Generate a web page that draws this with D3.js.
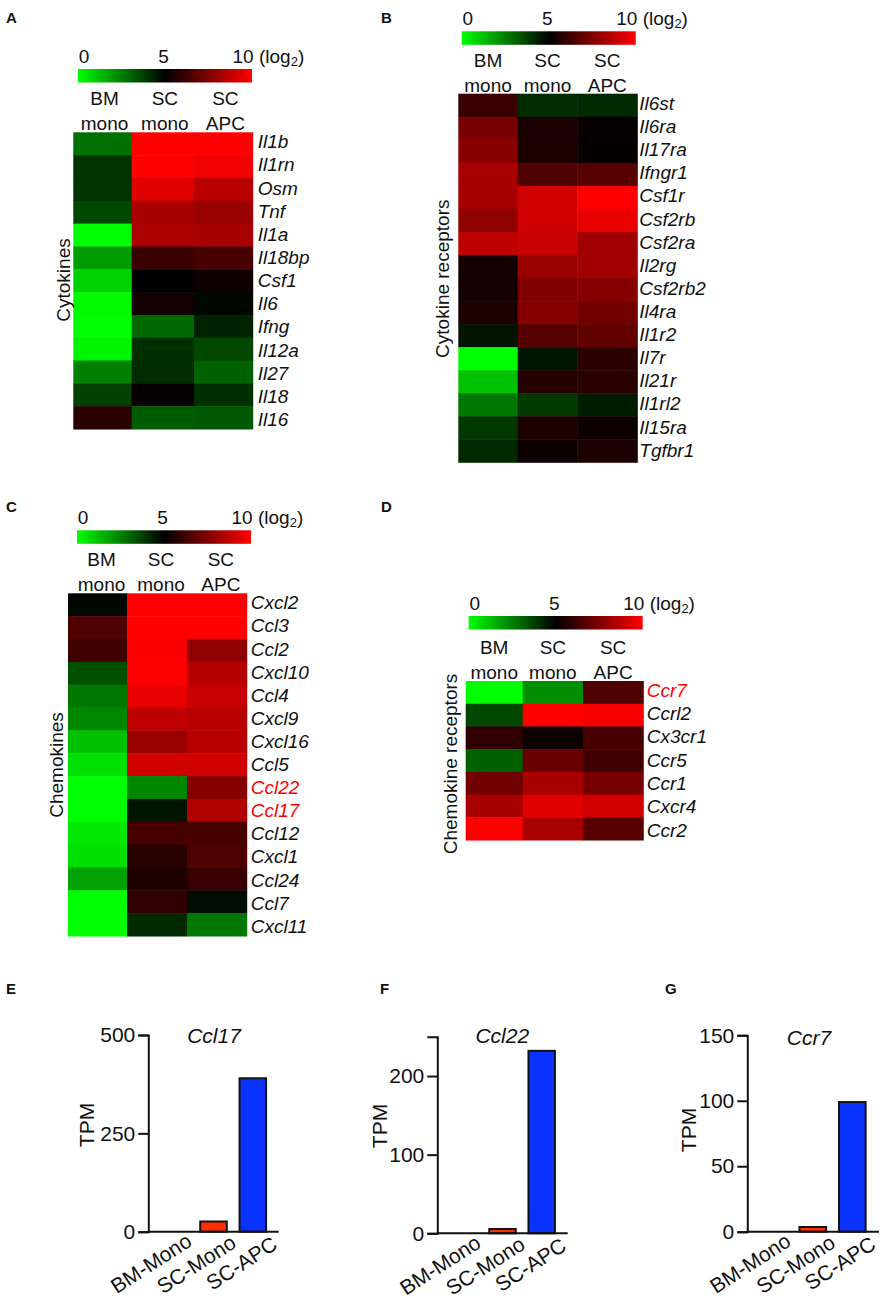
<!DOCTYPE html>
<html>
<head>
<meta charset="utf-8">
<script src="https://cdn.jsdelivr.net/npm/d3@7"></script>
<style>
  body { margin: 0; background: #fff; }
  svg { display: block; }
  text { font-family: "Liberation Sans", Arial, sans-serif; fill: #111; }
</style>
</head>
<body>
<div id="chart"></div>
<script>
// heatmap data, log2 values
var columns = ['BM mono', 'SC mono', 'SC APC'];

var cytokineGenes = ['Il1b','Il1rn','Osm','Tnf','Il1a','Il18bp','Csf1','Il6','Ifng','Il12a','Il27','Il18','Il16'];
var cytokineBM     = [2.8,4.0,4.0,3.6,0,1.95,0.9,0.1,0,0.2,2.5,3.75,5.8];
var cytokineMono   = [10,10,9.4,8.3,8.4,6.1,5.0,5.4,2.95,4.06,4.14,5.15,3.2];
var cytokineAPC    = [10,9.7,8.6,8.0,8.3,6.4,5.3,4.85,4.33,3.6,3.1,4.06,3.27];

var receptorGenes = ['Il6st','Il6ra','Il17ra','Ifngr1','Csf1r','Csf2rb','Csf2ra','Il2rg','Csf2rb2','Il4ra','Il1r2','Il7r','Il21r','Il1rl2','Il15ra','Tgfbr1'];
var receptorBM     = [6.1,7.35,7.7,8.3,8.3,7.8,8.75,5.4,5.4,5.6,4.6,0,1.2,2.65,3.9,4.2];
var receptorMono   = [4.14,5.5,5.55,6.55,9.1,9.1,8.9,8.0,7.5,7.65,6.7,4.6,5.7,3.9,5.55,5.25];
var receptorAPC    = [4.2,5.15,5.1,6.7,10,9.55,8.15,8.15,7.65,7.2,6.9,5.85,5.85,4.45,5.3,5.55];

var chemokineGenes = ['Cxcl2','Ccl3','Ccl2','Cxcl10','Ccl4','Cxcl9','Cxcl16','Ccl5','Ccl22','Ccl17','Ccl12','Cxcl1','Ccl24','Ccl7','Cxcl11'];
var chemokineBM    = [4.85,6.55,6.25,3.43,2.65,2.35,1.2,0.6,0,0,0.45,0.6,1.85,0,0];
var chemokineMono  = [10,10,9.9,10,9.55,8.75,8.0,9.1,2.35,4.6,6.4,5.8,5.6,5.95,4.2];
var chemokineAPC   = [10,10,7.85,8.6,8.9,8.6,8.6,9.1,7.65,8.45,6.4,6.55,6.1,4.76,2.65];

var chemoRecGenes = ['Ccr7','Ccrl2','Cx3cr1','Ccr5','Ccr1','Cxcr4','Ccr2'];
var chemoRecBM    = [0,3.6,5.95,3.1,7.2,8.3,10];
var chemoRecMono  = [2.2,10,5.3,7.05,8.3,9.4,8.3];
var chemoRecAPC   = [6.55,9.85,6.4,6.25,7.35,9.1,6.7];

var highlighted = ['Ccl22','Ccl17','Ccr7'];

// bar data
var barGroups = ['BM-Mono','SC-Mono','SC-APC'];
var ccl17Tpm = [0,26,390];
var ccl22Tpm = [0,5.5,232];
var ccr7Tpm  = [0,3.6,99];
var ccl17Ticks = [0,250,500];
var ccl22Ticks = [0,100,200];
var ccr7Ticks  = [0,50,100,150];

var width = 881, height = 1299;

var svg = d3.select('#chart').append('svg')
  .attr('width', width)
  .attr('height', height);

var defs = svg.append('defs');

var color = d3.scaleLinear()
  .domain([0, 5, 10])
  .range(['#00ff00', '#000000', '#ff0000']);

var grad = defs.append('linearGradient').attr('id', 'barGrad');
[0, 5, 10].forEach(function(v) {
  grad.append('stop').attr('offset', (v * 10) + '%').attr('stop-color', color(v));
});

function heatmap(p) {
  // columns are not quite equal in the figure, so edges come per panel
  var xLeft = d3.scaleOrdinal().domain(columns).range(p.edges.slice(0, 3));
  var xRight = d3.scaleOrdinal().domain(columns).range(p.edges.slice(1));
  var y = d3.scaleBand().domain(p.genes).range([p.y0, p.y1]);
  var labelY = d3.scalePoint().domain(p.genes).range(p.labelRange);
  var x1 = p.edges[3];
  var g = svg.append('g');

  p.series.forEach(function(values, c) {
    g.selectAll(null)
      .data(values)
      .enter().append('rect')
      .attr('x', xLeft(columns[c]))
      .attr('width', xRight(columns[c]) - xLeft(columns[c]) + 0.5)
      .attr('y', function(d, i) { return y(p.genes[i]); })
      .attr('height', y.bandwidth() + 0.5)
      .attr('fill', function(d) { return color(d); });
  });

  g.selectAll(null)
    .data(p.genes)
    .enter().append('text')
    .attr('x', x1 + p.labelGap)
    .attr('y', function(d) { return labelY(d); })
    .attr('font-size', 19)
    .attr('font-style', 'italic')
    .style('fill', function(d) { return highlighted.indexOf(d) > -1 ? '#ff0000' : '#111'; })
    .text(function(d) { return d; });

  // column headers, two lines
  columns.forEach(function(name, c) {
    var parts = name.split(' ');
    var cx = (xLeft(name) + xRight(name)) / 2 + p.headShift;
    parts.forEach(function(t, l) {
      g.append('text')
        .attr('x', cx)
        .attr('y', p.y0 - 27 + l * 25)
        .attr('text-anchor', 'middle')
        .attr('font-size', 19)
        .text(t);
    });
  });

  // colour key
  g.append('rect')
    .attr('x', p.keyX).attr('y', p.keyY)
    .attr('width', 174).attr('height', 13.5)
    .attr('fill', 'url(#barGrad)');

  var keyScale = d3.scaleLinear().domain([0, 10]).range([p.keyX + 6, p.keyX + 165]);
  [0, 5, 10].forEach(function(v) {
    g.append('text')
      .attr('x', keyScale(v))
      .attr('y', p.keyY - 6)
      .attr('text-anchor', 'middle')
      .attr('font-size', 19)
      .text(v);
  });
  var lg = g.append('text')
    .attr('x', p.keyX + 181)
    .attr('y', p.keyY - 6)
    .attr('font-size', 19)
    .text('(log');
  lg.append('tspan').attr('font-size', 13).attr('dy', 3).text('2');
  lg.append('tspan').attr('dy', -3).text(')');

  g.append('text')
    .attr('transform', 'translate(' + p.titleX + ',' + p.titleY + ') rotate(-90)')
    .attr('text-anchor', 'middle')
    .attr('font-size', 19)
    .text(p.title);
}

heatmap({
  genes: cytokineGenes, series: [cytokineBM, cytokineMono, cytokineAPC],
  edges: [73.3, 131.7, 194, 252.7], y0: 132.3, y1: 429, headShift: 2,
  labelRange: [148.3, 426], labelGap: 5,
  keyX: 78, keyY: 69, title: 'Cytokines', titleX: 70, titleY: 280
});
heatmap({
  genes: receptorGenes, series: [receptorBM, receptorMono, receptorAPC],
  edges: [458.3, 517.7, 577.3, 637.3], y0: 93.7, y1: 462.3, headShift: 0,
  labelRange: [110, 456.7], labelGap: 2,
  keyX: 461.7, keyY: 31.3, title: 'Cytokine receptors', titleX: 449, titleY: 278.7
});
heatmap({
  genes: chemokineGenes, series: [chemokineBM, chemokineMono, chemokineAPC],
  edges: [68, 127, 187, 246.7], y0: 593.3, y1: 936, headShift: 4,
  labelRange: [609.3, 932.7], labelGap: 4,
  keyX: 77, keyY: 530.3, title: 'Chemokines', titleX: 63.3, titleY: 765
});
heatmap({
  genes: chemoRecGenes, series: [chemoRecBM, chemoRecMono, chemoRecAPC],
  edges: [465.7, 522.7, 583, 643.3], y0: 681, y1: 840, headShift: 0,
  labelRange: [696.7, 836.7], labelGap: 3.5,
  keyX: 468.7, keyY: 616, title: 'Chemokine receptors', titleX: 456.7, titleY: 764
});

var barColors = ['#ff3000', '#ff3000', '#0a32ff'];

function barPlot(p) {
  var step = p.step;
  var x = d3.scaleBand().domain(barGroups)
    .range([p.first - step / 2, p.first + 2.5 * step])
    .paddingInner(0.325).paddingOuter(0.1625);
  var y = d3.scaleLinear().domain([0, p.max]).range([p.y0, p.yTop]);
  var g = svg.append('g');

  g.selectAll(null)
    .data(p.values.slice(1))
    .enter().append('rect')
    .attr('x', function(d, i) { return x(barGroups[i + 1]); })
    .attr('width', x.bandwidth())
    .attr('y', function(d) { return y(d); })
    .attr('height', function(d) { return y(0) - y(d); })
    .attr('fill', function(d, i) { return barColors[i + 1]; })
    .attr('stroke', '#111')
    .attr('stroke-width', 2);

  var axis = d3.axisLeft(y).tickValues(p.ticks).tickSize(10).tickPadding(3).tickFormat(d3.format('d'));
  var ag = g.append('g').attr('transform', 'translate(' + p.axisX + ',0)').call(axis);
  ag.selectAll('path, line').attr('stroke', '#111').attr('stroke-width', 2);
  ag.selectAll('text').attr('font-size', 21).style('font-family', '"Liberation Sans", Arial, sans-serif').style('fill', '#111');

  g.append('line')
    .attr('x1', p.axisX).attr('x2', p.xEnd)
    .attr('y1', p.y0).attr('y2', p.y0)
    .attr('stroke', '#111').attr('stroke-width', 2);

  g.selectAll(null)
    .data(barGroups)
    .enter().append('text')
    .attr('transform', function(d, i) {
      return 'translate(' + (x(d) + x.bandwidth() / 2 + p.labelShift[i]) + ',' + (p.y0 + 13 + i * 1.5) + ') rotate(-33)';
    })
    .attr('text-anchor', 'end')
    .attr('font-size', 21)
    .text(function(d) { return d; });

  g.append('text')
    .attr('x', p.titleX).attr('y', p.titleY)
    .attr('text-anchor', 'middle')
    .attr('font-size', 21)
    .attr('font-style', 'italic')
    .text(p.title);

  g.append('text')
    .attr('transform', 'translate(' + p.yLabelX + ',' + p.yLabelY + ') rotate(-90)')
    .attr('text-anchor', 'middle')
    .attr('font-size', 21)
    .text('TPM');
}

barPlot({
  values: ccl17Tpm, ticks: ccl17Ticks, max: 500, title: 'Ccl17',
  axisX: 148.3, y0: 1231.7, yTop: 1035, first: 174.2, step: 39.3, xEnd: 278.7,
  labelShift: [19, 24, 26], titleX: 214, titleY: 1043, yLabelX: 94.3, yLabelY: 1125
});
barPlot({
  values: ccl22Tpm, ticks: ccl22Ticks, max: 250, title: 'Ccl22',
  axisX: 437.3, y0: 1233.3, yTop: 1036.7, first: 463.3, step: 39.2, xEnd: 567.7,
  labelShift: [19, 24, 26], titleX: 502.3, titleY: 1043, yLabelX: 386.7, yLabelY: 1126
});
barPlot({
  values: ccr7Tpm, ticks: ccr7Ticks, max: 150, title: 'Ccr7',
  axisX: 747.3, y0: 1231.7, yTop: 1035.3, first: 773.3, step: 39.5, xEnd: 879,
  labelShift: [19, 24, 25], titleX: 809, titleY: 1045, yLabelX: 696, yLabelY: 1130
});

// panel letters
var panelLetters = ['A','B','C','D','E','F','G'];
var letterX = [6, 381, 6, 381, 6, 380, 665];
var letterY = [23, 23, 512, 512, 994, 994, 994];
svg.selectAll('.letter')
  .data(panelLetters)
  .enter().append('text')
  .attr('class', 'letter')
  .attr('x', function(d, i) { return letterX[i]; })
  .attr('y', function(d, i) { return letterY[i]; })
  .attr('font-size', 15)
  .attr('font-weight', 'bold')
  .text(function(d) { return d; });
</script>
</body>
</html>
